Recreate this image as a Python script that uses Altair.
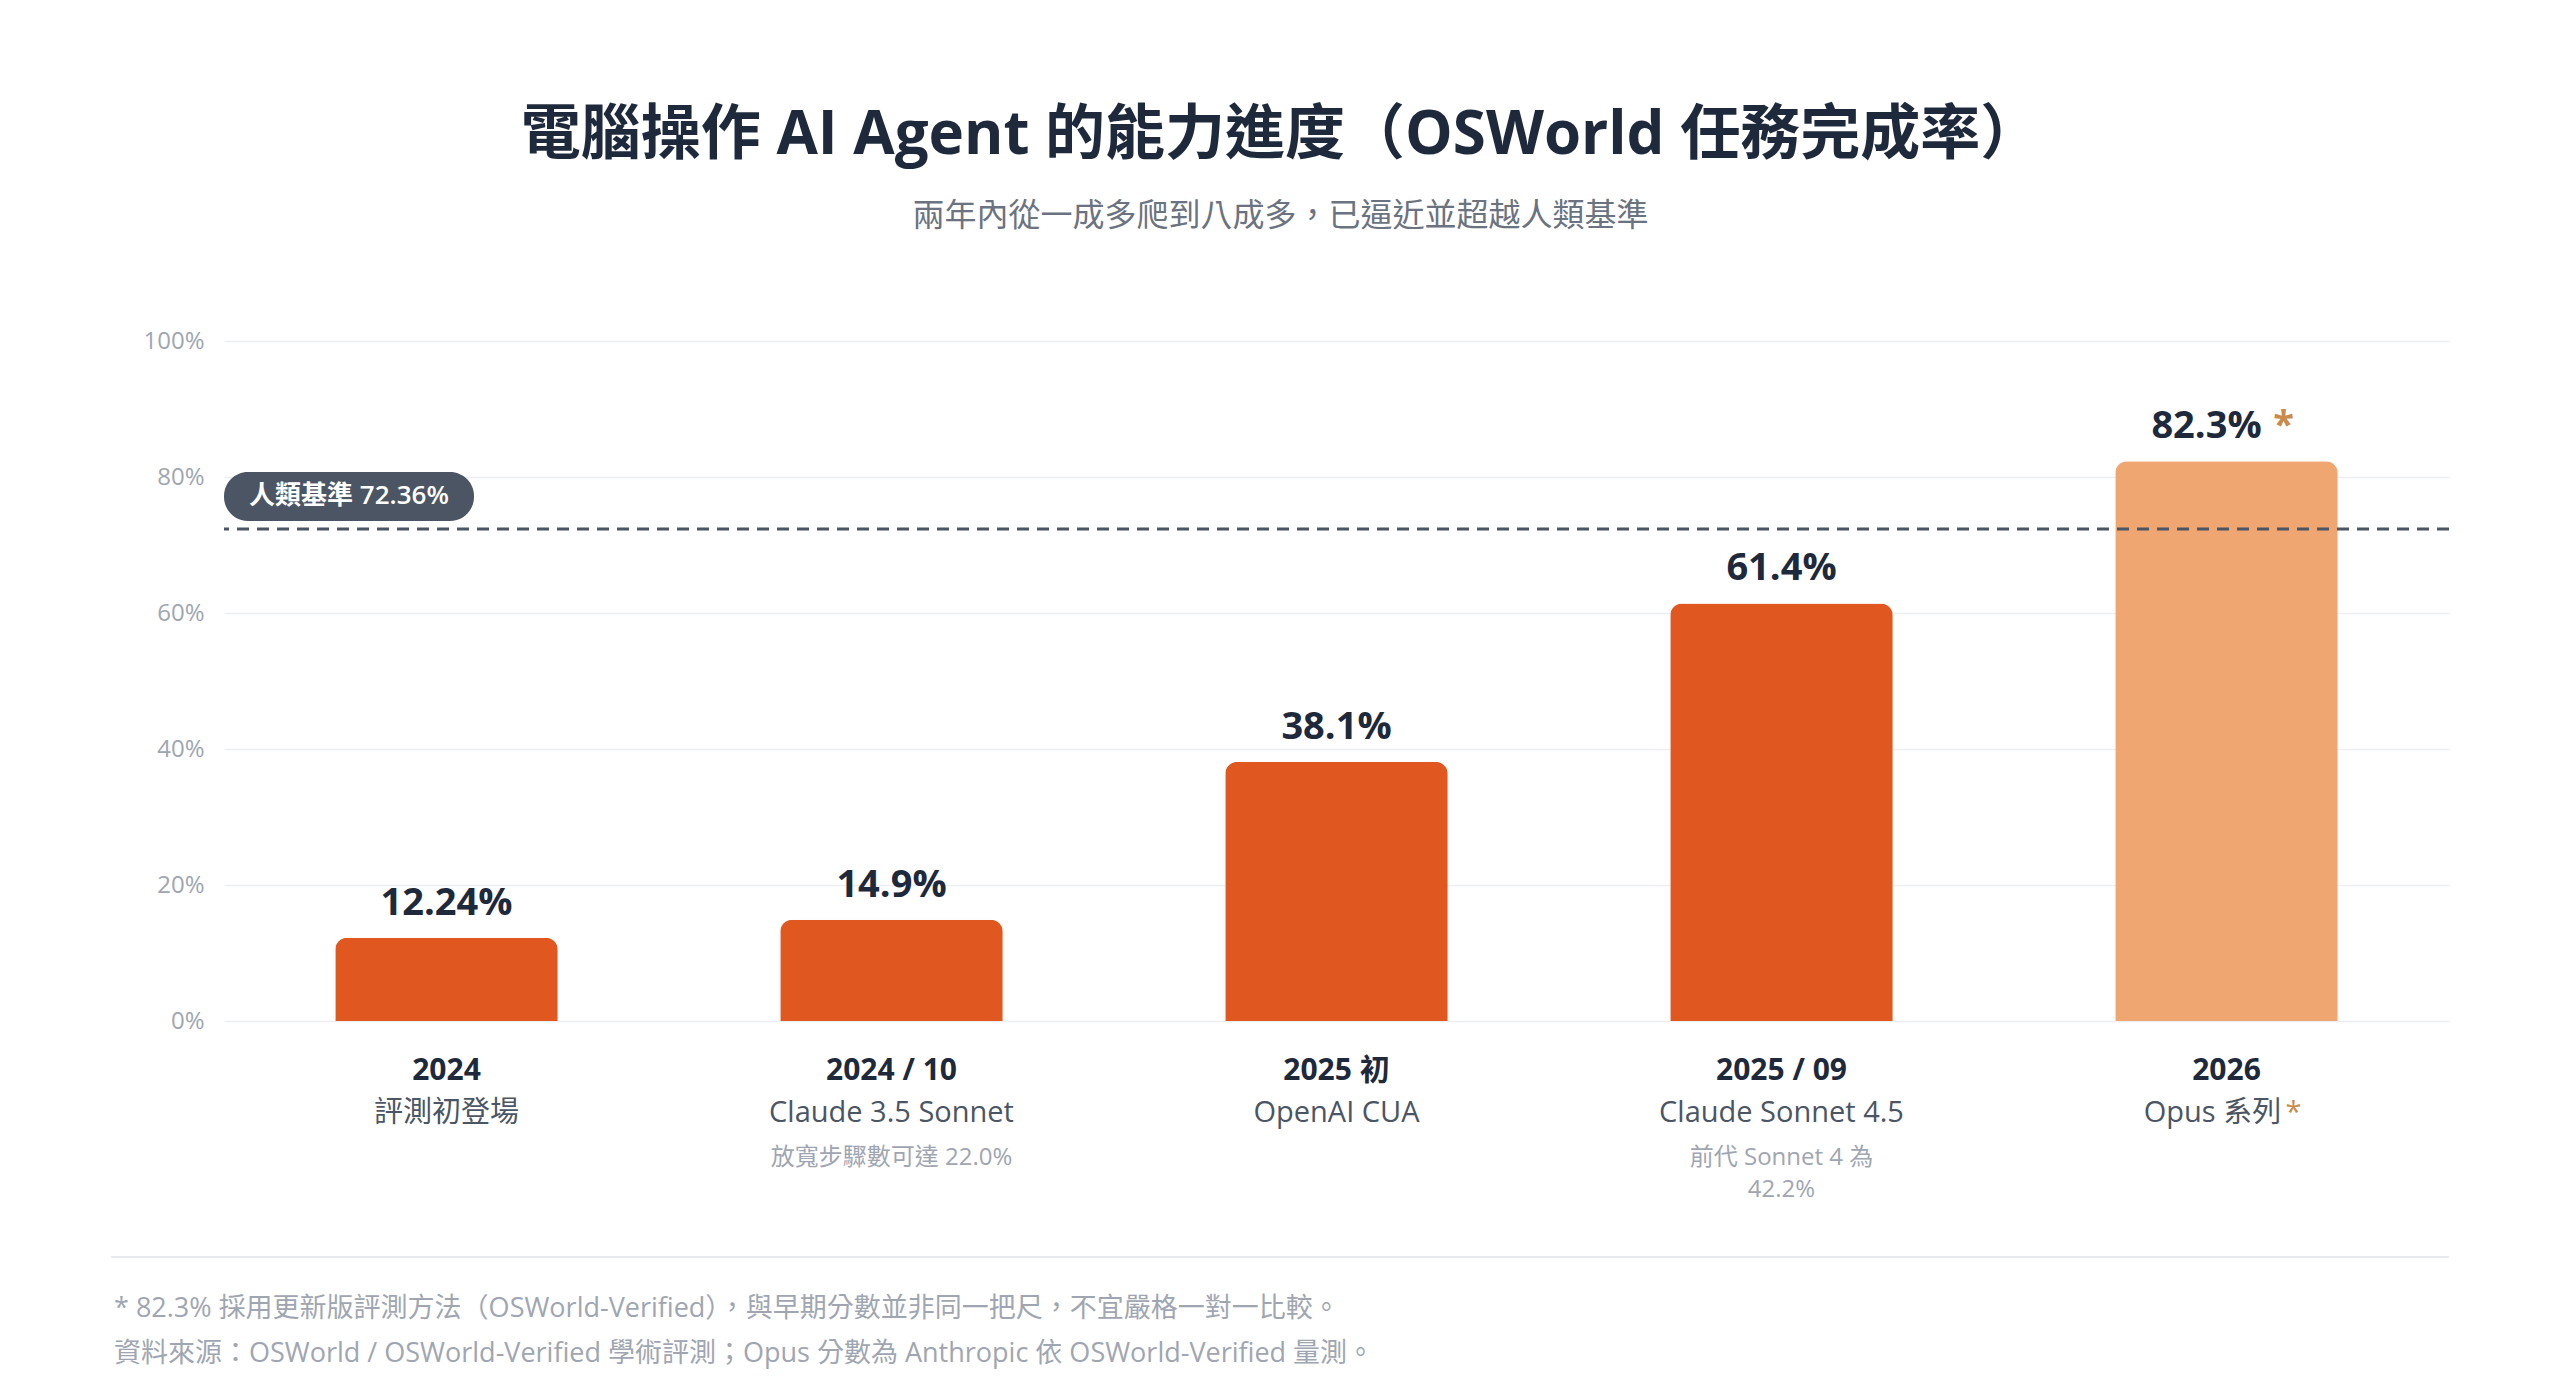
import altair as alt
import pandas as pd

# ---- data ----
periods = ["2024", "2024 / 10", "2025 初", "2025 / 09", "2026"]
models = ["評測初登場", "Claude 3.5 Sonnet", "OpenAI CUA", "Claude Sonnet 4.5", "Opus 系列"]
notes = ["", "放寬步驟數可達 22.0%", "", "前代 Sonnet 4 為\n42.2%", ""]
scores = [12.24, 14.9, 38.1, 61.4, 82.3]
score_labels = ["12.24%", "14.9%", "38.1%", "61.4%", "82.3%"]
method = ["original", "original", "original", "original", "verified"]
star = ["", "", "", "", "*"]

human_baseline = [72.36]
human_label = ["人類基準 72.36%"]
y_ticks = [0, 20, 40, 60, 80, 100]

title_text = "電腦操作 AI Agent 的能力進度（OSWorld 任務完成率）"
subtitle_text = "兩年內從一成多爬到八成多，已逼近並超越人類基準"
footnotes = [
    "* 82.3% 採用更新版評測方法（OSWorld-Verified），與早期分數並非同一把尺，不宜嚴格一對一比較。",
    "資料來源：OSWorld / OSWorld-Verified 學術評測；Opus 分數為 Anthropic 依 OSWorld-Verified 量測。",
]

df = pd.DataFrame({
    "period": periods, "model": models, "note": notes, "score": scores,
    "label": score_labels, "method": method, "star": star,
})
hb = pd.DataFrame({"score": human_baseline, "label": human_label})
fn = pd.DataFrame({"text": ["\n".join(footnotes)]})

FONT = "Segoe UI, Open Sans, Noto Sans CJK TC, sans-serif"
DARK = "#1E293B"
W, H = 2225, 680

yscale = alt.Scale(domain=[0, 100], nice=False)
yaxis = alt.Axis(values=y_ticks, labelExpr="datum.value + '%'", title=None,
                 domain=False, ticks=False, grid=True, gridColor="#ECEEF2", gridWidth=1.5,
                 labelColor="#A0A6B1", labelFontSize=24, labelFont=FONT, labelPadding=20)
xs = alt.X("period:N", scale=alt.Scale(domain=periods, paddingInner=0.5, paddingOuter=0.25), axis=None)
ys = alt.Y("score:Q", scale=yscale, axis=yaxis)

base = alt.Chart(df)

bars = base.mark_bar(cornerRadiusTopLeft=12, cornerRadiusTopRight=12).encode(
    x=xs, y=ys,
    color=alt.Color("method:N", scale=alt.Scale(domain=["original", "verified"], range=["#E0571F", "#F0A670"]), legend=None),
)

rule = alt.Chart(hb).mark_rule(strokeDash=[12, 8], strokeWidth=3, color="#4B5563").encode(y=ys)

badge = alt.Chart(hb).mark_rect(cornerRadius=24, color="#4B5563").encode(
    x=alt.value(0), x2=alt.value(250), y=alt.value(131), y2=alt.value(180)
)
badge_text = alt.Chart(hb).mark_text(color="white", fontSize=26, fontWeight=600, font=FONT,
                                     baseline="middle", dy=-33).encode(
    x=alt.value(125), y=ys, text="label:N"
)

val_std = base.transform_filter("datum.method == 'original'").mark_text(
    fontSize=38, fontWeight="bold", font=FONT, color=DARK, baseline="alphabetic", dy=-23
).encode(x=xs, y=ys, text="label:N")
val_rev = base.transform_filter("datum.method == 'verified'").mark_text(
    fontSize=38, fontWeight="bold", font=FONT, color=DARK, baseline="alphabetic", dy=-23, dx=-20
).encode(x=xs, y=ys, text="label:N")
val_star = base.transform_filter("datum.method == 'verified'").mark_text(
    fontSize=38, fontWeight="bold", font=FONT, color="#C98A4B", baseline="alphabetic", dy=-23, dx=57
).encode(x=xs, y=ys, text="star:N")

year_lbl = base.mark_text(fontSize=30, fontWeight="bold", font=FONT, color=DARK, baseline="middle").encode(
    x=xs, y=alt.value(730), text="period:N")
name_std = base.transform_filter("datum.method == 'original'").mark_text(
    fontSize=29, font=FONT, color="#4B5563", baseline="middle").encode(x=xs, y=alt.value(772), text="model:N")
name_rev = base.transform_filter("datum.method == 'verified'").mark_text(
    fontSize=29, font=FONT, color="#4B5563", baseline="middle", dx=-14).encode(x=xs, y=alt.value(772), text="model:N")
name_star = base.transform_filter("datum.method == 'verified'").mark_text(
    fontSize=29, font=FONT, color="#C98A4B", baseline="middle", dx=67).encode(x=xs, y=alt.value(772), text="star:N")
note_lbl = base.mark_text(fontSize=24, font=FONT, color="#A0A6B1", baseline="middle", lineBreak="\n",
                          lineHeight=32).encode(x=xs, y=alt.value(817), text="note:N")

divider = alt.Chart(hb).mark_rule(color="#E8EAEE", strokeWidth=2).encode(
    x=alt.value(-113), x2=alt.value(W), y=alt.value(916))
foot = alt.Chart(fn).mark_text(fontSize=27, font=FONT, color="#A0A6B1", align="left", baseline="middle",
                               lineBreak="\n", lineHeight=45).encode(
    x=alt.value(-110), y=alt.value(968), text="text:N")

chart = alt.layer(
    bars, rule, badge, badge_text, val_std, val_rev, val_star,
    year_lbl, name_std, name_rev, name_star, note_lbl, divider, foot
).properties(
    width=W, height=H,
    background="white",
    padding={"left": 224, "top": 341, "right": 111, "bottom": 374},
    autosize=alt.AutoSizeParams(type="none"),
    title=alt.TitleParams(
        text=title_text, subtitle=subtitle_text, anchor="middle", dx=-56,
        font=FONT, fontSize=60, fontWeight="bold", color=DARK,
        subtitleFont=FONT, subtitleFontSize=32, subtitleColor="#6B7280", subtitlePadding=34,
        offset=96,
    ),
).configure_view(stroke=None)

chart.save("out.html", embed_options={"renderer": "svg", "actions": False})
